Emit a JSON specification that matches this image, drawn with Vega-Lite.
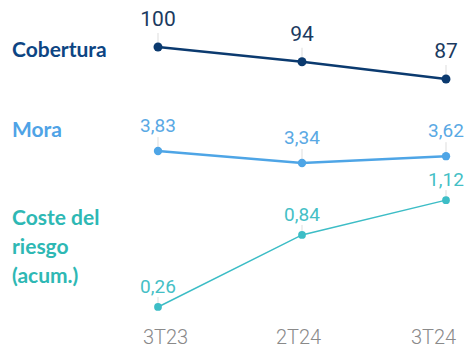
{
  "$schema": "https://vega.github.io/schema/vega-lite/v6.json",
  "width": 288,
  "height": 322,
  "autosize": "none",
  "padding": {"left": 158, "right": 20, "top": 0, "bottom": 27},
  "background": "white",
  "config": {
    "view": {"stroke": null},
    "locale": {"number": {"decimal": ",", "thousands": ".", "grouping": [3], "currency": ["", " €"]}}
  },
  "data": {"values": [
    {"serie": "Cobertura", "nombre": "Cobertura", "periodo": "3T23", "valor": 100},
    {"serie": "Cobertura", "nombre": "Cobertura", "periodo": "2T24", "valor": 94},
    {"serie": "Cobertura", "nombre": "Cobertura", "periodo": "3T24", "valor": 87},
    {"serie": "Mora", "nombre": "Mora", "periodo": "3T23", "valor": 3.83},
    {"serie": "Mora", "nombre": "Mora", "periodo": "2T24", "valor": 3.34},
    {"serie": "Mora", "nombre": "Mora", "periodo": "3T24", "valor": 3.62},
    {"serie": "Coste", "nombre": "Coste del\nriesgo\n(acum.)", "periodo": "3T23", "valor": 0.26},
    {"serie": "Coste", "nombre": "Coste del\nriesgo\n(acum.)", "periodo": "2T24", "valor": 0.84},
    {"serie": "Coste", "nombre": "Coste del\nriesgo\n(acum.)", "periodo": "3T24", "valor": 1.12}
  ]},
  "encoding": {
    "x": {"field": "periodo", "type": "ordinal", "sort": ["3T23", "2T24", "3T24"],
      "scale": {"type": "point", "padding": 0},
      "axis": {"orient": "bottom", "domain": false, "ticks": false, "grid": false, "labelPadding": 5, "labelFont": "Roboto", "labelFontWeight": 300, "labelFontSize": 20, "labelColor": "#8a8a8a", "labelAngle": 0, "title": null,
        "labelOffset": {"expr": "datum.value === '3T23' ? 7 : datum.value === '2T24' ? -4 : -13"}}}
  },
  "layer": [
    {
      "transform": [{"filter": "datum.serie === 'Cobertura'"}],
      "encoding": {"y": {"field": "valor", "type": "quantitative", "scale": {"domain": [-11.72, 119.09], "zero": false, "nice": false}, "axis": null}},
      "layer": [
        {"mark": {"type": "rule", "y2Offset": -14, "color": "#dddddd", "strokeWidth": 1}, "encoding": {"y2": {"field": "valor"}}},
        {"mark": {"type": "line", "color": "#0b3a6f", "strokeWidth": 2.5}},
        {"mark": {"type": "point", "filled": true, "opacity": 1, "color": "#0b3a6f", "size": 80}},
        {"mark": {"type": "text", "dy": -27, "font": "Roboto", "fontSize": 21, "color": "#1b3a60"}, "encoding": {"text": {"field": "valor", "type": "quantitative", "format": "d"}}},
        {"transform": [{"filter": "datum.periodo === '3T23'"}],
          "mark": {"type": "text", "dx": -146, "dy": 4, "align": "left", "baseline": "middle", "font": "Lato", "fontWeight": "bold", "fontSize": 21, "color": "#0d4583"},
          "encoding": {"text": {"field": "nombre"}}}
      ]
    },
    {
      "transform": [{"filter": "datum.serie === 'Mora'"}],
      "encoding": {"y": {"field": "valor", "type": "quantitative", "scale": {"domain": [-3.153, 10.0], "zero": false, "nice": false}, "axis": null}},
      "layer": [
        {"mark": {"type": "rule", "y2Offset": -14, "color": "#dddddd", "strokeWidth": 1}, "encoding": {"y2": {"field": "valor"}}},
        {"mark": {"type": "line", "color": "#4ea5e6", "strokeWidth": 2.5}},
        {"mark": {"type": "point", "filled": true, "opacity": 1, "color": "#4ea5e6", "size": 70}},
        {"mark": {"type": "text", "dy": -25, "font": "Roboto", "fontSize": 19, "color": "#5aa9e4"}, "encoding": {"text": {"field": "valor", "type": "quantitative", "format": ".2f"}}},
        {"transform": [{"filter": "datum.periodo === '3T23'"}],
          "mark": {"type": "text", "dx": -146, "dy": -20, "align": "left", "baseline": "middle", "font": "Lato", "fontWeight": "bold", "fontSize": 21, "color": "#4fa3e6"},
          "encoding": {"text": {"field": "nombre"}}}
      ]
    },
    {
      "transform": [{"filter": "datum.serie === 'Coste'"}],
      "encoding": {"y": {"field": "valor", "type": "quantitative", "scale": {"domain": [0.139, 2.731], "zero": false, "nice": false}, "axis": null}},
      "layer": [
        {"mark": {"type": "rule", "y2Offset": -10, "color": "#dddddd", "strokeWidth": 1}, "encoding": {"y2": {"field": "valor"}}},
        {"mark": {"type": "line", "color": "#3dbdc6", "strokeWidth": 1.5}},
        {"mark": {"type": "point", "filled": true, "opacity": 1, "color": "#3dbdc6", "size": 60}},
        {"mark": {"type": "text", "dy": -20, "font": "Roboto", "fontSize": 19, "color": "#45bfc6"}, "encoding": {"text": {"field": "valor", "type": "quantitative", "format": ".2f"}}},
        {"transform": [{"filter": "datum.periodo === '3T23'"}],
          "mark": {"type": "text", "dx": -146, "dy": -88, "align": "left", "baseline": "middle", "lineBreak": "\n", "lineHeight": 29, "font": "Lato", "fontWeight": "bold", "fontSize": 21, "color": "#2eb8b4"},
          "encoding": {"text": {"field": "nombre"}}}
      ]
    }
  ],
  "resolve": {"scale": {"y": "independent"}}
}
